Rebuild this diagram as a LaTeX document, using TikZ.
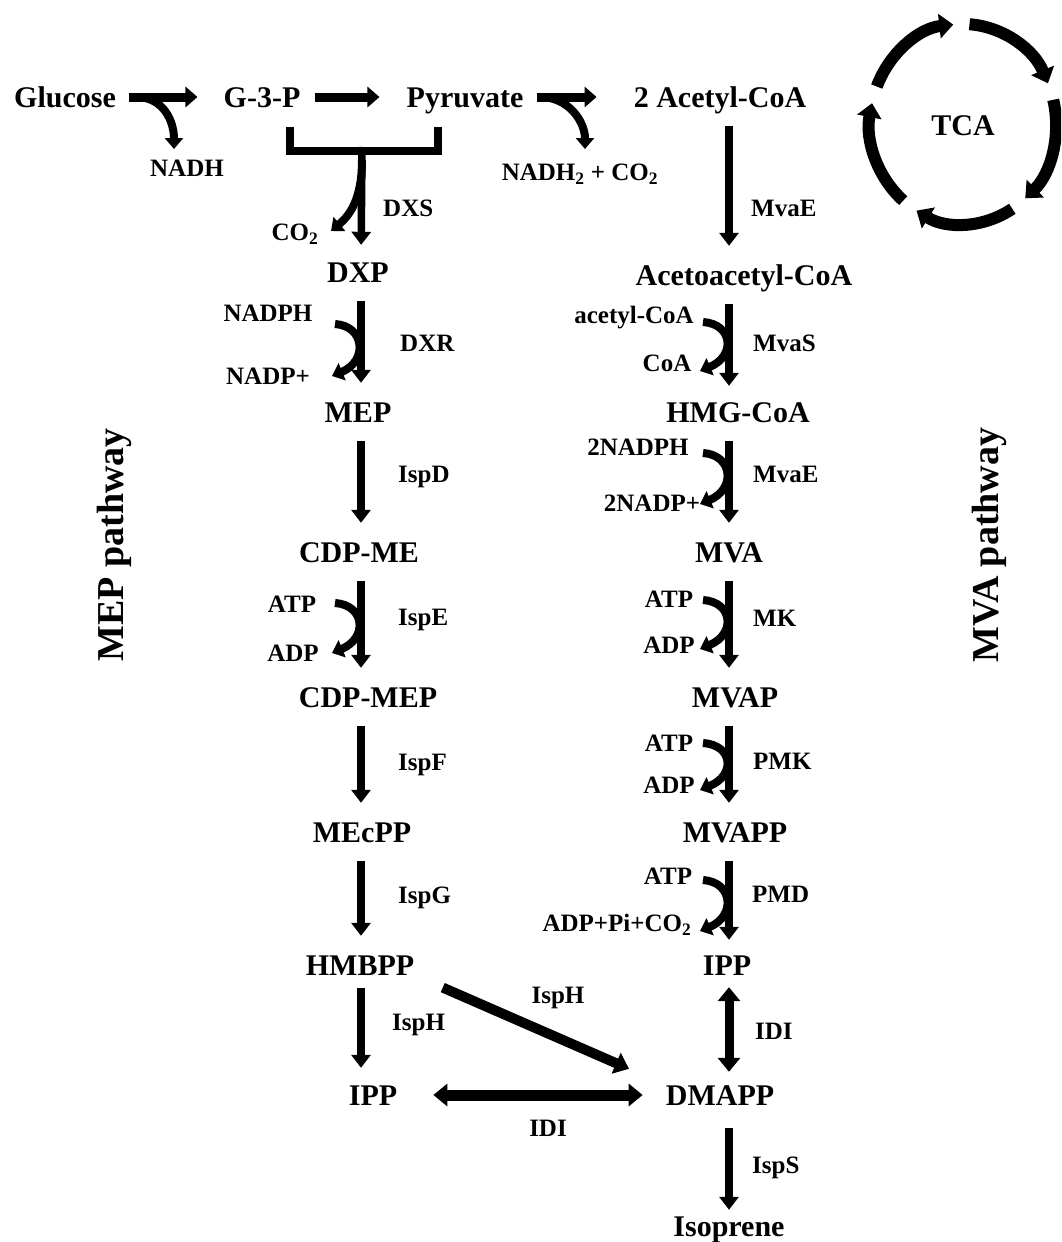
\documentclass[tikz,border=0pt]{standalone}
\usepackage{fontspec}
\setmainfont{Liberation Serif}
\usetikzlibrary{arrows.meta, positioning, calc}

\begin{document}
\begin{tikzpicture}[x=1pt, y=-1pt,
  met/.style={font=\fontsize{30}{32}\selectfont\bfseries, inner sep=0pt, text height=20pt, text depth=0pt},
  lab/.style={font=\fontsize{25}{27}\selectfont\bfseries, inner sep=0pt, text height=17pt, text depth=0pt},
  enz/.style={lab, anchor=west},
  pwy/.style={font=\fontsize{38}{40}\selectfont\bfseries, inner sep=0pt, text height=25pt, text depth=0pt, rotate=90},
  rxn/.style={line width=7.5pt, -{Triangle[length=13pt,width=19pt]}, shorten <=19pt, shorten >=19pt},
  top/.style={line width=9pt, -{Triangle[length=12pt,width=20pt]}},
  side/.style={line width=8pt, -{Triangle[length=11pt,width=18pt]}},
  dbl/.style={line width=9pt, {Triangle[length=14pt,width=22pt]}-{Triangle[length=14pt,width=22pt]}},
  diag/.style={line width=10pt, -{Triangle[length=14pt,width=22pt]}},
  cyc/.style={line width=12pt, -{Triangle[length=14pt,width=24pt]}}]

\useasboundingbox (0,0) rectangle (1061,1242);
\clip (0,0) rectangle (1061,1242);

% columns
\coordinate (L) at (361,0);
\coordinate (R) at (729,0);

% metabolites
\node[met] (glc) at (65,97) {Glucose};
\node[met] (g3p) at (262,97) {G-3-P};
\node[met] (pyr) at (465,97) {Pyruvate};
\node[met] (acoa) at (720,97) {2 Acetyl-CoA};
\node[met] (dxp) at (358,272) {DXP};
\node[met] (aacoa) at (744,275) {Acetoacetyl-CoA};
\node[met] (mep) at (358,412) {MEP};
\node[met] (hmg) at (738,412) {HMG-CoA};
\node[met] (cdpme) at (359,552) {CDP-ME};
\node[met] (mva) at (729,552) {MVA};
\node[met] (cdpmep) at (368,697) {CDP-MEP};
\node[met] (mvap) at (735,697) {MVAP};
\node[met] (mecpp) at (362,832) {MEcPP};
\node[met] (mvapp) at (735,832) {MVAPP};
\node[met] (hmbpp) at (360,965) {HMBPP};
\node[met] (ippr) at (727,965) {IPP};
\node[met] (ippl) at (373,1095) {IPP};
\node[met] (dmapp) at (720,1095) {DMAPP};
\node[met] (isop) at (729,1226) {Isoprene};
\node[met] (tca) at (963,125) {TCA};

% side products
\node[lab] (nadh) at (187,168) {NADH};
\node[lab] (co2) at (295,232) {CO\textsubscript{2}};
\node[lab] (nadh2) at (580,172) {NADH\textsubscript{2} + CO\textsubscript{2}};
\node[lab] (nadph) at (268,313) {NADPH};
\node[lab] (nadpp) at (268,376) {NADP+};
\node[lab] (acet) at (634,315) {acetyl-CoA};
\node[lab] (coa) at (667,363) {CoA};
\node[lab] (nadph2) at (638,447) {2NADPH};
\node[lab] (nadpp2) at (652,503) {2NADP+};
\node[lab] (atp1) at (292,604) {ATP};
\node[lab] (adp1) at (293,653) {ADP};
\node[lab] (atp2) at (669,599) {ATP};
\node[lab] (adp2) at (669,645) {ADP};
\node[lab] (atp3) at (669,743) {ATP};
\node[lab] (adp3) at (669,785) {ADP};
\node[lab] (atp4) at (668,876) {ATP};
\node[lab] (adp4) at (617,923) {ADP+Pi+CO\textsubscript{2}};

% enzymes
\node[enz] (dxs) at (383,208) {DXS};
\node[enz] (dxr) at (400,343) {DXR};
\node[enz] (ispd) at (398,474) {IspD};
\node[enz] (ispe) at (398,617) {IspE};
\node[enz] (ispf) at (398,762) {IspF};
\node[enz] (ispg) at (398,895) {IspG};
\node[enz] (isph1) at (392,1022) {IspH};
\node[lab] (isph2) at (558,995) {IspH};
\node[lab] (idi1) at (548,1128) {IDI};
\node[enz] (mvae1) at (751,208) {MvaE};
\node[enz] (mvas) at (753,343) {MvaS};
\node[enz] (mvae2) at (753,474) {MvaE};
\node[enz] (mk) at (753,618) {MK};
\node[enz] (pmk) at (753,761) {PMK};
\node[enz] (pmd) at (752,894) {PMD};
\node[enz] (idi2) at (755,1031) {IDI};
\node[enz] (isps) at (752,1165) {IspS};

\node[pwy] (meppw) at (111,545) {MEP pathway};
\node[pwy] (mvapw) at (986,545) {MVA pathway};

% glycolysis
\draw[top, shorten <=13pt, shorten >=26pt] (glc) -- (g3p);
\draw[top, shorten <=14pt, shorten >=27pt] (g3p) -- (pyr);
\draw[top, shorten <=13pt, shorten >=37pt] (pyr) -- (acoa);

\coordinate (s1) at (136,97);
\coordinate (t1) at (174,149);
\draw[side] (s1) .. controls +(28,0) and +(0,-27) .. (t1);
\coordinate (s2) at (540,97);
\coordinate (t2) at (585,149);
\draw[side] (s2) .. controls +(29,0) and +(0,-27) .. (t2);

% G-3-P + pyruvate to DXP
\coordinate (g3pbar) at (290,127);
\coordinate (pyrbar) at (438,127);
\coordinate (jn) at (362,151);
\draw[line width=8pt] (g3pbar) |- (jn) -| (pyrbar);
\draw[rxn, shorten <=-4pt, shorten >=17pt] (jn) -- (dxp.north -| L);
\coordinate (s3) at (362,160);
\coordinate (t3) at (331,231);
\draw[side] (s3) .. controls +(0,40) and +(18,-15) .. (t3);

% MEP pathway
\draw[rxn] (dxp.south -| L) -- (mep.north -| L);
\draw[rxn] (mep.south -| L) -- (cdpme.north -| L);
\draw[rxn] (cdpme.south -| L) -- (cdpmep.north -| L);
\draw[rxn] (cdpmep.south -| L) -- (mecpp.north -| L);
\draw[rxn] (mecpp.south -| L) -- (hmbpp.north -| L);
\draw[rxn, shorten <=13pt, shorten >=17pt] (hmbpp.south -| L) -- (ippl.north -| L);

\coordinate (dxrin) at (335,324);
\coordinate (dxrout) at (332,376);
\draw[side] (dxrin) .. controls +(30,2) and +(36,-15) .. (dxrout);
\coordinate (ispein) at (335,603);
\coordinate (ispeout) at (332,653);
\draw[side] (ispein) .. controls +(30,2) and +(36,-15) .. (ispeout);

% MVA pathway
\draw[rxn] (acoa.south -| R) -- (aacoa.north -| R);
\draw[rxn, shorten >=16pt] (aacoa.south -| R) -- (hmg.north -| R);
\draw[rxn] (hmg.south -| R) -- (mva.north -| R);
\draw[rxn] (mva.south -| R) -- (mvap.north -| R);
\draw[rxn] (mvap.south -| R) -- (mvapp.north -| R);
\draw[rxn, shorten >=15pt] (mvapp.south -| R) -- (ippr.north -| R);
\draw[rxn, shorten <=23pt, shorten >=6pt] (dmapp.south -| R) -- (isop.north -| R);

\coordinate (mvasin) at (703,322);
\coordinate (mvasout) at (700,371);
\draw[side] (mvasin) .. controls +(30,2) and +(36,-15) .. (mvasout);
\coordinate (mvaein) at (703,453);
\coordinate (mvaeout) at (700,504);
\draw[side] (mvaein) .. controls +(30,2) and +(36,-15) .. (mvaeout);
\coordinate (mkin) at (703,600);
\coordinate (mkout) at (700,649);
\draw[side] (mkin) .. controls +(30,2) and +(36,-15) .. (mkout);
\coordinate (pmkin) at (703,743);
\coordinate (pmkout) at (700,790);
\draw[side] (pmkin) .. controls +(30,2) and +(36,-15) .. (pmkout);
\coordinate (pmdin) at (703,880);
\coordinate (pmdout) at (700,931);
\draw[side] (pmdin) .. controls +(30,2) and +(36,-15) .. (pmdout);

% IPP / DMAPP
\draw[dbl, shorten <=12pt, shorten >=13pt] (ippr.south -| R) -- (dmapp.north -| R);
\draw[dbl, line width=11pt, shorten <=36pt, shorten >=23pt] (ippl) -- (dmapp);
\draw[diag, shorten <=31pt, shorten >=40pt] (hmbpp.south east) -- (dmapp.north west);

% TCA cycle
\coordinate (tcac) at (963,124);
\foreach \a in {202,274,346,418,490}
  \draw[cyc] ($(tcac)+(\a:93 and 100)$) arc[start angle=\a, delta angle=62, x radius=93, y radius=100];
\end{tikzpicture}
\end{document}
